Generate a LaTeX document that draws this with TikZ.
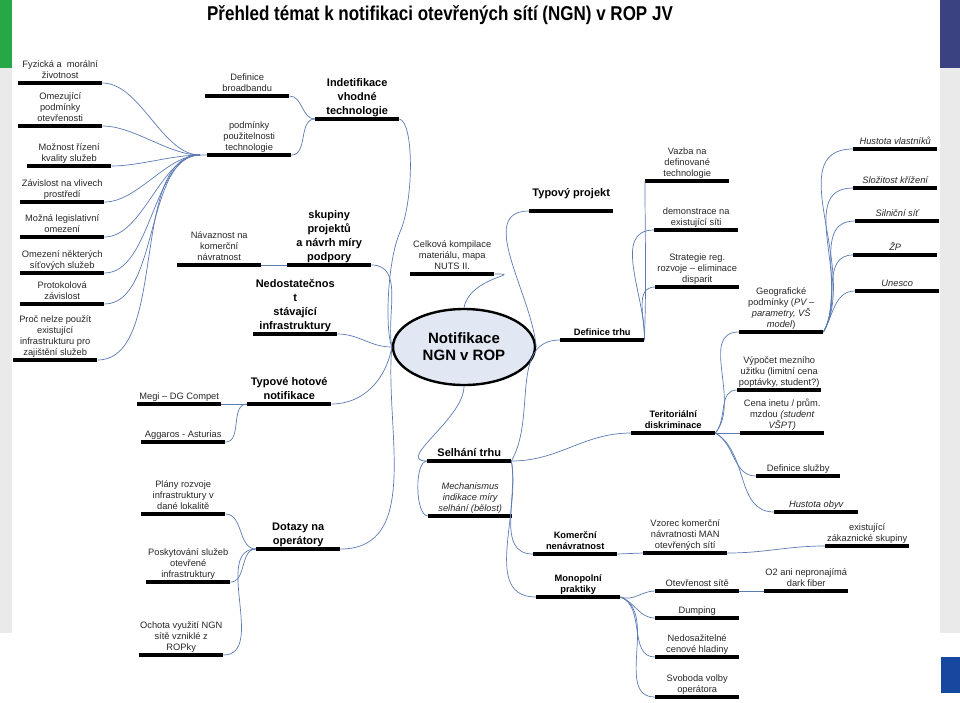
\documentclass[tikz,border=0pt]{standalone}
\usepackage{fontspec}
\setmainfont{Liberation Sans}
\usepackage{graphicx}
\usetikzlibrary{shapes.geometric}

\definecolor{linkblue}{RGB}{92,122,178}
\definecolor{rootfill}{RGB}{226,232,243}
\definecolor{slidegreen}{RGB}{38,168,70}
\definecolor{slideblue}{RGB}{58,66,130}
\definecolor{slidegray}{RGB}{234,234,234}
\definecolor{eublue}{RGB}{22,72,160}

\begin{document}
\begin{tikzpicture}[
  x=1pt, y={(0pt,-1pt)},
  bar/.style={line width=3.2pt, black},
  leaf/.style={anchor=south west, align=center, minimum width=84pt, inner xsep=0pt,
               inner ysep=4.5pt, text depth=0pt, text=black!85,
               font=\fontsize{9.3}{10.8}\selectfont,
               append after command={(\tikzlastnode.south west) edge[bar] (\tikzlastnode.south east)}},
  leafi/.style={leaf, font=\itshape\fontsize{9.3}{10.8}\selectfont},
  head/.style={leaf, text=black, font=\bfseries\fontsize{11}{13.8}\selectfont},
  subhead/.style={leaf, text=black, font=\bfseries\fontsize{9.3}{11}\selectfont},
  root/.style={ellipse, draw, line width=2.4pt, fill=rootfill, minimum width=142pt,
               minimum height=76pt, inner sep=0pt, align=center,
               font=\bfseries\fontsize{15}{17}\selectfont},
  link/.style={draw=linkblue, line width=0.7pt}
]
\useasboundingbox (0,0) rectangle (960,702);
\fill[slidegreen] (0,0) rectangle (12,68);
\fill[slideblue] (940,0) rectangle (960,68);
\fill[slidegray] (0,68) rectangle (12,633);
\fill[slidegray] (940,68) rectangle (960,633);
\fill[eublue] (941,657) rectangle (960,693);
\node[font=\bfseries\fontsize{20}{22}\selectfont] (title) at (440,15)
  {\scalebox{0.85}[1]{Přehled témat k notifikaci otevřených sítí (NGN) v ROP JV}};

% left branch
\node[leaf] (fyzicka) at (18,83) {Fyzická a\ \ morální\\životnost};
\node[leaf] (omezujici) at (18,126) {Omezující\\podmínky\\otevřenosti};
\node[leaf] (rizeni) at (27,166) {Možnost řízení\\kvality služeb};
\node[leaf] (zavislost) at (20,202) {Závislost na vlivech\\prostředí};
\node[leaf] (legislativa) at (20,237) {Možná legislativní\\omezení};
\node[leaf] (sitove) at (20,273) {Omezení některých\\síťových služeb};
\node[leaf] (protokol) at (20,304) {Protokolová\\závislost};
\node[leaf] (stavajici) at (13,360) {Proč nelze použít\\existující\\infrastrukturu pro\\zajištění služeb};
\node[leaf] (broadband) at (205,96) {Definice\\broadbandu};
\node[leaf] (podminky) at (207,155) {podmínky\\použitelnosti\\technologie};
\coordinate (hub) at ([xshift=-7pt]podminky.south west);
\node[head] (technologie) at (315,119) {Indetifikace\\vhodné\\technologie};
\node[leaf] (navaznost) at (177,265) {Návaznost na\\komerční\\návratnost};
\node[head] (skupiny) at (287,265) {skupiny\\projektů\\a návrh míry\\podpory};
\node[head] (nedostatek) at (253,334) {Nedostatečnos\\t\\stávající\\infrastruktury};
\node[head] (typnotif) at (247,404) {Typové hotové\\notifikace};
\node[leaf] (megi) at (137,404) {Megi – DG Compet};
\node[leaf] (aggaros) at (141,442) {Aggaros - Asturias};
\node[head] (dotazy) at (256,549) {Dotazy na\\operátory};
\node[leaf] (plany) at (141,514) {Plány rozvoje\\infrastruktury v\\dané lokalitě};
\node[leaf] (poskytovani) at (146,582) {Poskytování služeb\\otevřené\\infrastruktury};
\node[leaf] (ochota) at (139,655) {Ochota využití NGN\\sítě vzniklé z\\ROPky};

% centre
\node[root] (root) at (464,347) {Notifikace\\NGN v ROP};
\node[leaf] (kompilace) at (410,274) {Celková kompilace\\materiálu, mapa\\NUTS II.};
\node[head, inner ysep=14pt] (typproj) at (529,211) {Typový projekt};

% right branch
\node[subhead] (deftrhu) at (560,340) {Definice trhu};
\node[leaf] (vazba) at (645,181) {Vazba na\\definované\\technologie};
\node[leaf] (demonstrace) at (654,230) {demonstrace na\\existující síti};
\node[leaf] (strategie) at (655,287) {Strategie reg.\\rozvoje – eliminace\\disparit};
\node[subhead] (teritorium) at (631,433) {Teritoriální\\diskriminace};
\node[leaf] (geografie) at (739,332) {Geografické\\podmínky (\textit{PV –}\\\textit{parametry, VŠ}\\\textit{model})};
\node[leafi] (vlastnici) at (853,149) {Hustota vlastníků};
\node[leafi] (krizeni) at (853,188) {Složitost křížení};
\node[leafi] (silnice) at (855,221) {Silniční síť};
\node[leafi] (zp) at (853,255) {ŽP};
\node[leafi] (unesco) at (855,291) {Unesco};
\node[leaf] (vypocet) at (737,390) {Výpočet mezního\\užitku (limitní cena\\poptávky, student?)};
\node[leaf] (cena) at (740,433) {Cena inetu / prům.\\mzdou \textit{(student}\\\textit{VŠPT)}};
\node[leaf] (sluzba) at (756,476) {Definice služby};
\node[leafi] (obyvatele) at (774,512) {Hustota obyv};
\node[head] (selhani) at (427,461) {Selhání trhu};
\node[leafi] (mechanismus) at (428,516) {Mechanismus\\indikace míry\\selhání (bělost)};
\node[subhead] (komercni) at (533,554) {Komerční\\nenávratnost};
\node[leaf] (vzorec) at (643,553) {Vzorec komerční\\návratnosti MAN\\otevřených sítí};
\node[leaf] (zakaznici) at (825,546) {existující\\zákaznické skupiny};
\node[subhead] (monopol) at (536,597) {Monopolní\\praktiky};
\node[leaf] (otevrenost) at (655,591) {Otevřenost sítě};
\node[leaf] (o2) at (764,591) {O2 ani nepronajímá\\dark fiber};
\node[leaf] (dumping) at (655,618) {Dumping};
\node[leaf] (hladiny) at (655,657) {Nedosažitelné\\cenové hladiny};
\node[leaf] (svoboda) at (655,697) {Svoboda volby\\operátora};

% connectors, left
\draw[link] (fyzicka.south east) to[out=0,in=180,looseness=0.8] (hub) -- (podminky.south west);
\draw[link] (omezujici.south east) to[out=0,in=180,looseness=0.8] (hub);
\draw[link] (rizeni.south east) to[out=0,in=180,looseness=0.8] (hub);
\draw[link] (zavislost.south east) to[out=0,in=180,looseness=0.8] (hub);
\draw[link] (legislativa.south east) to[out=0,in=180,looseness=0.8] (hub);
\draw[link] (sitove.south east) to[out=0,in=180,looseness=0.8] (hub);
\draw[link] (protokol.south east) to[out=0,in=180,looseness=0.8] (hub);
\draw[link] (stavajici.south east) to[out=0,in=180,looseness=0.8] (hub);
\draw[link] (broadband.south east) to[out=0,in=180] (technologie.south west);
\draw[link] (podminky.south east) to[out=0,in=180] (technologie.south west);
\draw[link] (technologie.south east) .. controls (414,122) and (414,200) .. (400,232)
      .. controls (387,262) and (385,330) .. (root.west);
\draw[link] (navaznost.south east) -- (skupiny.south west);
\draw[link] (skupiny.south east) to[out=0,in=100] (root.west);
\draw[link] (nedostatek.south east) to[out=0,in=180] (root.west);
\draw[link] (megi.south east) -- (typnotif.south west);
\draw[link] (aggaros.south east) to[out=0,in=180] (typnotif.south west);
\draw[link] (typnotif.south east) to[out=0,in=-100] (root.west);
\draw[link] (plany.south east) to[out=0,in=180] (dotazy.south west);
\draw[link] (poskytovani.south east) to[out=0,in=180] (dotazy.south west);
\draw[link] (ochota.south east) to[out=0,in=180] (dotazy.south west);
\draw[link] (dotazy.south east) to[out=0,in=-95] (root.west);

% connectors, centre and right
\draw[link] (kompilace.south east) to[out=0,in=80,looseness=1.8] (root.north);
\draw[link] (root.east) to[out=95,in=180] (typproj.south west);
\draw[link] (root.south) to[out=-90,in=180] (selhani.south west);
\draw[link] (selhani.south west) to[out=180,in=180,looseness=0.6] (mechanismus.south west);
\draw[link] (selhani.south east) to[out=60,in=180] (deftrhu.south west);
\draw[link] (selhani.south east) to[out=0,in=180] (teritorium.south west);
\draw[link] (selhani.south east) to[out=-80,in=180] (komercni.south west);
\draw[link] (selhani.south east) to[out=-80,in=180] (monopol.south west);
\draw[link] (deftrhu.south east) to[out=88,in=-90] (vazba.south west);
\draw[link] (deftrhu.south east) to[out=88,in=180] (demonstrace.south west);
\draw[link] (deftrhu.south east) to[out=88,in=180] (strategie.south west);
\draw[link] (teritorium.south east) to[out=50,in=180] (geografie.south west);
\draw[link] (teritorium.south east) to[out=50,in=180] (vypocet.south west);
\draw[link] (teritorium.south east) -- (cena.south west);
\draw[link] (teritorium.south east) to[out=-30,in=180] (sluzba.south west);
\draw[link] (teritorium.south east) to[out=-30,in=180] (obyvatele.south west);
\draw[link] (geografie.south east) to[out=60,in=180] (vlastnici.south west);
\draw[link] (geografie.south east) to[out=60,in=180] (krizeni.south west);
\draw[link] (geografie.south east) to[out=60,in=180] (silnice.south west);
\draw[link] (geografie.south east) to[out=60,in=180] (zp.south west);
\draw[link] (geografie.south east) to[out=60,in=180] (unesco.south west);
\draw[link] (komercni.south east) -- (vzorec.south west);
\draw[link] (vzorec.south east) to[out=0,in=180] (zakaznici.south west);
\draw[link] (monopol.south east) to[out=-20,in=180] (otevrenost.south west);
\draw[link] (monopol.south east) to[out=-20,in=180] (dumping.south west);
\draw[link] (monopol.south east) to[out=-20,in=180] (hladiny.south west);
\draw[link] (monopol.south east) to[out=-20,in=180] (svoboda.south west);
\draw[link] (otevrenost.south east) -- (o2.south west);
\end{tikzpicture}
\end{document}
